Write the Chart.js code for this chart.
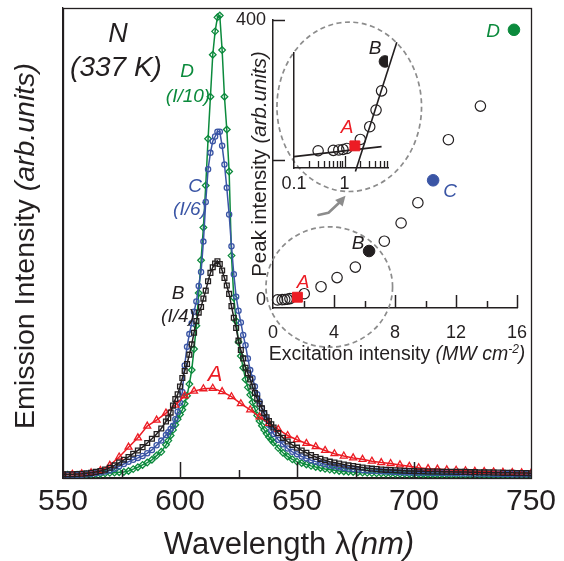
<!DOCTYPE html>
<html><head><meta charset="utf-8">
<script src="https://cdn.jsdelivr.net/npm/chart.js@4.4.1/dist/chart.umd.min.js"></script>
<style>
html,body{margin:0;padding:0;background:#fff;}
#wrap{position:relative;width:564px;height:561px;background:#fff;}
#wrap canvas{position:absolute;left:0;top:0;}
</style></head><body>
<div id="wrap">
<canvas id="main" width="564" height="561"></canvas>
<canvas id="inset" width="564" height="561"></canvas>
<canvas id="logp" width="564" height="561"></canvas>
</div>
<script>
// ---------------- DATA ----------------
// wavelength grid (nm) used for spectra B, C, D
const wavelength = [550,552,554,556,558,560,562,564,566,568,570,572,574,576,578,580,582,584,586,588,590,592,594,
595,596,597,598,599,600,601,602,603,604,605,606,607,608,609,610,611,612,613,614,615,616,617,618,619,620,621,622,623,624,625,626,627,628,629,630,631,632,633,634,635,636,637,638,639,640,
642,644,646,648,650,652,654,656,658,660,662,664,666,668,670,672,674,676,678,680,682,684,686,688,690,692,694,696,698,700,702,704,706,708,710,712,714,716,718,720,722,724,726,728,730,732,734,736,738,740,742,744,746,748,750];
// spectrum B (I/4)
const spectrumB = [0.2,0.2,0.2,0.25,0.3,0.4,0.5,0.7,0.9,1.2,1.6,2.1,2.7,3.3,3.9,4.6,5.3,6.0,6.9,7.8,8.8,10.0,11.5,
12.2,13.4,14.9,16.3,17.3,19.0,20.8,22.3,23.8,25.8,28,30.5,33,34.8,36,37.8,39.5,41.5,43.3,44.5,45.3,45.8,45.2,43.8,42.2,40.6,38.8,36.2,33.7,31.5,28.8,26.8,25,23,21.8,20.5,19,17.6,16.4,15.3,14.3,13.3,12.4,11.6,10.9,10.2,
9.0,8.0,7.2,6.5,5.9,5.3,4.8,4.3,3.9,3.5,3.2,2.9,2.7,2.5,2.3,2.1,1.95,1.8,1.65,1.5,1.4,1.3,1.2,1.15,1.1,1.05,1.0,0.95,0.9,0.9,0.85,0.85,0.8,0.8,0.8,0.75,0.75,0.75,0.7,0.7,0.7,0.65,0.65,0.6,0.6,0.6,0.55,0.55,0.5,0.5,0.5,0.45,0.45,0.45,0.4];
// spectrum C (I/6)
const spectrumC = [0.1,0.1,0.1,0.1,0.1,0.2,0.3,0.4,0.6,0.8,1.0,1.4,1.9,2.4,2.9,3.3,3.7,4.1,4.7,5.4,6.4,7.4,8.6,
9.2,9.9,10.6,12.0,13.6,15.5,17.8,23.5,27.5,30.2,32.5,35,37.2,40.5,43.5,50,58.5,65.5,69,71.5,72.5,73.5,73.5,70.5,66.5,61.5,55.8,49,43,38.2,35.2,32.7,30,27.8,25,22.5,20.8,19,17.3,15.8,14.4,13.1,12,10.8,9.6,8.8,
7.6,6.6,5.7,5.0,4.5,4.0,3.6,3.2,2.9,2.6,2.35,2.1,1.9,1.7,1.55,1.4,1.3,1.2,1.1,1.0,0.95,0.9,0.85,0.8,0.75,0.7,0.65,0.6,0.6,0.55,0.5,0.5,0.5,0.45,0.45,0.45,0.4,0.4,0.4,0.35,0.35,0.35,0.3,0.3,0.3,0.3,0.25,0.25,0.25,0.25,0.2,0.2,0.2,0.2,0.2];
// spectrum D (I/10)
const spectrumD = [0.1,0.1,0.1,0.1,0.1,0.15,0.2,0.25,0.3,0.4,0.5,0.55,0.65,0.7,0.9,1.3,1.7,2.2,2.7,3.3,4.2,5.0,6.5,
7.4,8.5,9.7,10.8,12.0,13.0,14.0,15.3,17.0,19.5,22.5,27,32,39,46,53,62,72,81,90,95,98,98.4,91,81,74,65,47,38,33,28.5,25.5,23,20.5,18.8,17.2,15.6,14.2,12.8,11.6,10.6,9.7,8.9,8.2,7.6,7.0,
5.8,4.8,4.0,3.4,2.9,2.6,2.3,2.0,1.75,1.55,1.35,1.2,1.05,0.9,0.8,0.75,0.7,0.6,0.55,0.5,0.45,0.4,0.4,0.35,0.35,0.3,0.3,0.3,0.25,0.25,0.25,0.2,0.2,0.2,0.2,0.2,0.2,0.15,0.15,0.15,0.15,0.15,0.15,0.15,0.1,0.1,0.1,0.1,0.1,0.1,0.1,0.1,0.1,0.1,0.1];
// spectrum A (full intensity), sampled every 4 nm
const wavelengthA = [550,554,558,562,566,570,574,578,582,586,590,594,598,602,606,610,614,618,622,626,630,634,638,642,646,650,654,658,662,666,670,674,678,682,686,690,694,698,702,706,710,714,718,722,726,730,734,738,742,746,750];
const spectrumA = [0.2,0.2,0.3,0.5,1.0,2.1,3.9,6.0,8.0,10.5,11.8,13.3,15.0,17.0,18.0,18.5,18.6,17.9,16.8,15.3,14.0,12.5,11.1,9.8,8.5,7.6,6.8,6.1,5.3,4.6,4.1,3.7,3.4,3.0,2.7,2.5,2.2,1.9,1.6,1.4,1.3,1.15,1.05,0.95,0.85,0.8,0.7,0.6,0.55,0.5,0.4];
const mainTicks = [550,600,650,700,750];

// Inset: peak intensity vs excitation intensity
const excitation = [0.3,0.6,0.77,0.93,1.11,2.05,3.15,4.2,5.4,7.3,8.4,9.5,11.5,13.6];
const peakIntensity = [0.2,0.5,0.8,1.2,2,9,19,32,47,84,110,139,229,277];
const markedLabels = ['A','B','C','D'];
const markedExcitation = [1.6,6.3,10.5,15.8];
const markedPeak = [4,70,171,386];
const insetXTicks = [0,4,8,12,16];
const insetYTicks = [0,400];
// log-scale zoom panel: fitted lines
const fitLowX = [0.1,5.4],  fitLowY = [-4.4,3.4];
const fitHighX = [1.64,10.8], fitHighY = [-16,85];
const logXTicks = [0.1,1];

// ---------------- STYLE ----------------
const FONT = "'Liberation Sans', Arial, Helvetica, sans-serif";
const RED='#ec1c24', BLACK='#231f20', BLUE='#3a55a5', GREEN='#0b8a3c', GRAY='#8c8c8c';

function rich(ctx, parts, x, y, align, rot){
  ctx.save();
  ctx.translate(x,y);
  if (rot) ctx.rotate(rot);
  ctx.textBaseline='alphabetic';
  let total=0;
  parts.forEach(p=>{ctx.font=p.f; p.w=ctx.measureText(p.t).width; total+=p.w;});
  let cx = align==='center' ? -total/2 : (align==='right' ? -total : 0);
  parts.forEach(p=>{ctx.font=p.f; ctx.fillStyle=p.c||BLACK; ctx.fillText(p.t,cx,p.dy||0); cx+=p.w;});
  ctx.restore();
}
function label(ctx, t, x, y, size, color, italic){
  rich(ctx,[{t:t,f:(italic?'italic ':'')+size+'px '+FONT,c:color}],x,y,'center');
}
function xTick(ctx, sc, v, yb, len){
  const px=Math.round(sc.getPixelForValue(v))+0.5;
  ctx.beginPath(); ctx.moveTo(px,yb); ctx.lineTo(px,yb-len); ctx.stroke();
}
function yTick(ctx, sc, v, xb, len){
  const py=Math.round(sc.getPixelForValue(v))+0.5;
  ctx.beginPath(); ctx.moveTo(xb,py); ctx.lineTo(xb+len,py); ctx.stroke();
}

const common = {
  responsive:false, animation:false, devicePixelRatio:1,
  plugins:{legend:{display:false}, tooltip:{enabled:false}},
  events:[]
};

// ---------------- MAIN CHART ----------------
const mainDeco = {
  id:'mainDeco',
  afterDraw(chart){
    const {ctx, chartArea:a, scales:{x}} = chart;
    ctx.save();
    ctx.strokeStyle=BLACK; ctx.lineWidth=1.3;
    ctx.strokeRect(a.left+0.5, a.top+0.5, a.right-a.left, a.bottom-a.top);
    ctx.lineWidth=1.5;
    [575,625,675,725].forEach(v=>xTick(ctx,x,v,a.bottom,8));
    [600,650,700].forEach(v=>xTick(ctx,x,v,a.bottom,16));
    // titles
    rich(ctx,[{t:'Wavelength \u03BB',f:'31px '+FONT},{t:'(nm)',f:'italic 31px '+FONT}],289,554,'center');
    rich(ctx,[{t:'Emission Intensity ',f:'28.5px '+FONT},{t:'(arb.units)',f:'italic 28.5px '+FONT}],34,246,'center',-Math.PI/2);
    // annotations
    label(ctx,'N',118,42,27,BLACK,true);
    label(ctx,'(337 K)',116,76,28,BLACK,true);
    label(ctx,'D',187,77,19,GREEN,true);
    label(ctx,'(I/10)',188,102,19,GREEN,true);
    label(ctx,'C',195,192,19,BLUE,true);
    label(ctx,'(I/6)',190,215,19,BLUE,true);
    label(ctx,'B',178,299,19,BLACK,true);
    label(ctx,'(I/4)',178,322,19,BLACK,true);
    label(ctx,'A',215,381,22,RED,true);
    ctx.restore();
  }
};

function spec(xs, ys){ return xs.map((w,i)=>({x:w,y:ys[i]})); }
const CLEAR='rgba(255,255,255,0)';

new Chart(document.getElementById('main'), {
  type:'line',
  data:{datasets:[
    {label:'B', data:spec(wavelength,spectrumB), borderColor:BLACK, pointBorderColor:BLACK, pointBackgroundColor:CLEAR, pointStyle:'rect', pointRadius:3.4},
    {label:'A', data:spec(wavelengthA,spectrumA), borderColor:RED, pointBorderColor:RED, pointBackgroundColor:CLEAR, pointStyle:'triangle', pointRadius:4},
    {label:'C', data:spec(wavelength,spectrumC), borderColor:BLUE, pointBorderColor:BLUE, pointBackgroundColor:CLEAR, pointStyle:'circle', pointRadius:2.6},
    {label:'D', data:spec(wavelength,spectrumD), borderColor:GREEN, pointBorderColor:GREEN, pointBackgroundColor:CLEAR, pointStyle:'rectRot', pointRadius:3.3}
  ]},
  options:Object.assign({}, common, {
    layout:{padding:{left:0,right:33,top:8,bottom:0}},
    elements:{line:{borderWidth:1.5,tension:0}, point:{borderWidth:1.3}},
    scales:{
      x:{type:'linear', min:550, max:750,
         afterBuildTicks(s){ s.ticks = mainTicks.map(v=>({value:v})); },
         ticks:{font:{family:FONT,size:30}, color:BLACK, padding:6, maxRotation:0, autoSkip:false},
         grid:{display:false, drawTicks:false}, border:{display:true,color:BLACK,width:1.3},
         afterFit(s){ s.height=83; }},
      y:{type:'linear', min:-0.6, max:100, ticks:{display:false},
         grid:{display:false, drawTicks:false}, border:{display:true,color:BLACK,width:1.3},
         afterFit(s){ s.width=63; }}
    }
  }),
  plugins:[mainDeco]
});

// ---------------- INSET ----------------
const insetDeco = {
  id:'insetDeco',
  afterDraw(chart){
    const {ctx, chartArea:a, scales:{x,y}} = chart;
    ctx.save();
    ctx.strokeStyle=BLACK; ctx.lineWidth=1.5;
    [4,8,12,16].forEach(v=>xTick(ctx,x,v,a.bottom,13));
    [2,6,10,14].forEach(v=>xTick(ctx,x,v,a.bottom,7));
    [200,400].forEach(v=>yTick(ctx,y,v,a.left,12));
    // dashed ellipses (data coordinates)
    ctx.strokeStyle=GRAY; ctx.lineWidth=1.7; ctx.setLineDash([5,3.5]);
    [[5.0,276,4.74,121],[3.69,18.6,4.15,86]].forEach(e=>{
      const cx=x.getPixelForValue(e[0]), cy=y.getPixelForValue(e[1]);
      const rx=x.getPixelForValue(e[0]+e[2])-cx, ry=cy-y.getPixelForValue(e[1]+e[3]);
      ctx.beginPath(); ctx.ellipse(cx,cy,rx,ry,0,0,Math.PI*2); ctx.stroke();
    });
    ctx.setLineDash([]);
    // arrow
    const pts=[[2.98,121.4],[3.64,124.7],[4.41,140.4]].map(p=>[x.getPixelForValue(p[0]),y.getPixelForValue(p[1])]);
    const tip=[x.getPixelForValue(4.71),y.getPixelForValue(147.9)];
    ctx.lineWidth=2.6; ctx.lineCap='round'; ctx.lineJoin='round';
    ctx.beginPath(); ctx.moveTo(pts[0][0],pts[0][1]); pts.slice(1).forEach(p=>ctx.lineTo(p[0],p[1])); ctx.stroke();
    const dx=tip[0]-pts[2][0], dy=tip[1]-pts[2][1], L=Math.hypot(dx,dy), ux=dx/L, uy=dy/L;
    const bx=tip[0]-ux*9, by=tip[1]-uy*9;
    ctx.fillStyle=GRAY; ctx.beginPath(); ctx.moveTo(tip[0]+ux*1,tip[1]+uy*1);
    ctx.lineTo(bx-uy*5,by+ux*5); ctx.lineTo(bx+uy*5,by-ux*5); ctx.closePath(); ctx.fill();
    // titles
    rich(ctx,[{t:'Excitation intensity ',f:'19.5px '+FONT},{t:'(MW cm',f:'italic 19.5px '+FONT},{t:'-2',f:'italic 12px '+FONT,dy:-7},{t:')',f:'italic 19.5px '+FONT}],397,360,'center');
    rich(ctx,[{t:'Peak intensity ',f:'20.5px '+FONT},{t:'(arb.units)',f:'italic 20.5px '+FONT}],266,164,'center',-Math.PI/2);
    // point labels
    const lp=[[303,288,RED],[358,249,BLACK],[450,197,BLUE],[493,37,GREEN]];
    markedLabels.forEach((t,i)=>label(ctx,t,lp[i][0],lp[i][1],19,lp[i][2],true));
    ctx.restore();
  }
};

const markColors=[RED,BLACK,BLUE,GREEN];
const markStyles=['rect','circle','circle','circle'];
const markRadius=[7,5.8,5.8,5.8];
const markedSets = markedLabels.map((t,i)=>({label:t, data:[{x:markedExcitation[i],y:markedPeak[i]}],
  pointStyle:markStyles[i], pointRadius:markRadius[i], backgroundColor:markColors[i], borderColor:markColors[i], borderWidth:1, clip:false}));

new Chart(document.getElementById('inset'), {
  type:'scatter',
  data:{datasets:markedSets.concat([
    {label:'open', data:excitation.map((e,i)=>({x:e,y:peakIntensity[i]})), pointStyle:'circle', pointRadius:5.2,
     borderColor:BLACK, backgroundColor:CLEAR, borderWidth:1.2, clip:false}
  ])},
  options:Object.assign({}, common, {
    layout:{padding:{left:0,right:47,top:20,bottom:0}},
    scales:{
      x:{type:'linear', min:0, max:16,
         afterBuildTicks(s){ s.ticks = insetXTicks.map(v=>({value:v})); },
         ticks:{font:{family:FONT,size:18}, color:BLACK, padding:14, maxRotation:0, autoSkip:false},
         grid:{display:false, drawTicks:false}, border:{display:true,color:BLACK,width:1.5},
         afterFit(s){ s.height=253; }},
      y:{type:'linear', min:-11.4, max:400,
         afterBuildTicks(s){ s.ticks = insetYTicks.map(v=>({value:v})); },
         ticks:{font:{family:FONT,size:18}, color:BLACK, padding:7},
         grid:{display:false, drawTicks:false}, border:{display:true,color:BLACK,width:1.5},
         afterFit(s){ s.width=273; }}
    }
  }),
  plugins:[insetDeco]
});

// ---------------- LOG ZOOM PANEL ----------------
const logDeco = {
  id:'logDeco',
  afterDraw(chart){
    const {ctx, chartArea:a, scales:{x}} = chart;
    ctx.save();
    ctx.strokeStyle=BLACK; ctx.lineWidth=1.3;
    [0.2,0.3,0.4,0.5,0.6,0.7,0.8,0.9,2,3,4,5,6,7].forEach(v=>xTick(ctx,x,v,a.bottom,7));
    xTick(ctx,x,1,a.bottom,12);
    label(ctx,'B',375,54,19,BLACK,true);
    label(ctx,'A',347,133,19,RED,true);
    ctx.restore();
  }
};
const nLog = excitation.filter(e=>e<=6.3).length;
new Chart(document.getElementById('logp'), {
  type:'scatter',
  data:{datasets:[
    {label:'A', data:[{x:markedExcitation[0],y:markedPeak[0]}], pointStyle:'rect', pointRadius:7, backgroundColor:RED, borderColor:RED, borderWidth:1},
    {label:'B', data:[{x:markedExcitation[1],y:markedPeak[1]}], pointStyle:'circle', pointRadius:5.8, backgroundColor:BLACK, borderColor:BLACK, borderWidth:1},
    {label:'open', data:excitation.slice(0,nLog).map((e,i)=>({x:e,y:peakIntensity[i]})), pointStyle:'circle', pointRadius:5.2,
     borderColor:BLACK, backgroundColor:CLEAR, borderWidth:1.2},
    {label:'fitLow', data:fitLowX.map((v,i)=>({x:v,y:fitLowY[i]})), showLine:true, pointRadius:0, borderColor:BLACK, borderWidth:1.6, clip:false},
    {label:'fitHigh', data:fitHighX.map((v,i)=>({x:v,y:fitHighY[i]})), showLine:true, pointRadius:0, borderColor:BLACK, borderWidth:1.6, clip:false}
  ]},
  options:Object.assign({}, common, {
    layout:{padding:{left:0,right:176,top:53,bottom:0}},
    scales:{
      x:{type:'logarithmic', min:0.1, max:7.24,
         afterBuildTicks(s){ s.ticks = logXTicks.map(v=>({value:v})); },
         ticks:{font:{family:FONT,size:18}, color:BLACK, padding:5, maxRotation:0, autoSkip:false, callback:(v)=>String(v)},
         grid:{display:false, drawTicks:false}, border:{display:true,color:BLACK,width:1.5},
         afterFit(s){ s.height=393; }},
      y:{type:'linear', min:-13.3, max:76.6, ticks:{display:false},
         grid:{display:false, drawTicks:false}, border:{display:true,color:BLACK,width:1.5},
         afterFit(s){ s.width=294; }}
    }
  }),
  plugins:[logDeco]
});
</script>
</body></html>
